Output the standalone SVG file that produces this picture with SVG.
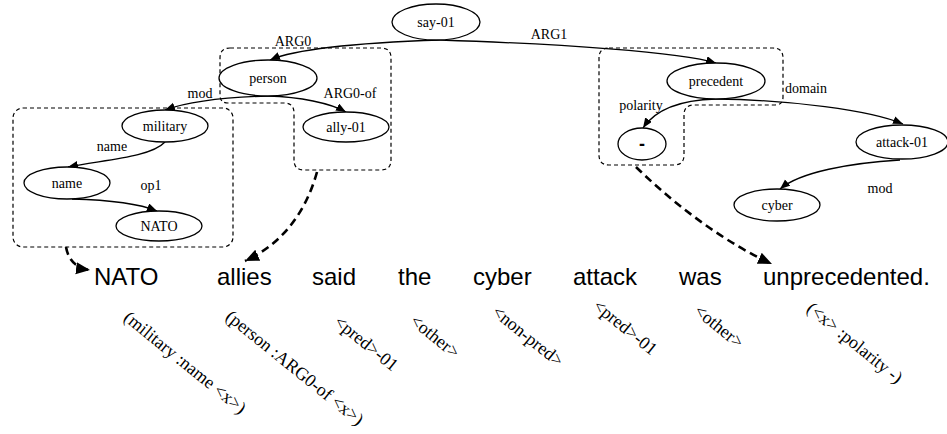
<svg xmlns="http://www.w3.org/2000/svg" width="947" height="434" viewBox="0 0 947 434">
<style>
.node ellipse{fill:#fff;stroke:#000;stroke-width:1.3}
.lbl{font-family:"Liberation Serif","Times New Roman",serif;font-size:14px;fill:#000;text-anchor:middle}
.edge{fill:none;stroke:#000;stroke-width:1.3}
.box{fill:none;stroke:#000;stroke-width:1.2;stroke-dasharray:4,3}
.align{fill:none;stroke:#000;stroke-width:2.6;stroke-dasharray:8,5}
.word{font-family:"Liberation Sans",Arial,sans-serif;font-size:24px;fill:#000}
.rot{font-family:"Liberation Serif","Times New Roman",serif;font-size:18px;fill:#000}
</style>
<defs>
<marker id="ah" markerUnits="userSpaceOnUse" markerWidth="12" markerHeight="10" refX="10" refY="4" orient="auto">
<path d="M0,0 L10,4 L0,8 Z" fill="#000"/>
</marker>
<marker id="ahb" markerUnits="userSpaceOnUse" markerWidth="16" markerHeight="14" refX="14" refY="6" orient="auto">
<path d="M0,0 L14,6 L0,12 Z" fill="#000"/>
</marker>
</defs>

<g id="boxes">
<rect class="box" x="13" y="108" width="220" height="139" rx="10"/>
<path class="box" d="M230,48 H381 Q391,48 391,58 V160 Q391,170 381,170 H304 Q294,170 294,160 V113 Q294,103 284,103 H228 Q220,103 220,95 V58 Q220,48 230,48 Z"/>
<path class="box" d="M609,48 H773 Q783,48 783,58 V97 Q783,105 775,105 H694 Q684,105 684,115 V155 Q684,165 674,165 H609 Q599,165 599,155 V58 Q599,48 609,48 Z"/>
</g>

<g id="connectors">
<path class="edge" d="M440,40 C380,42 300,47 270,60" marker-end="url(#ah)"/>
<path class="edge" d="M440,40 C560,44 680,52 716,63" marker-end="url(#ah)"/>
<path class="edge" d="M268,96 C230,97 190,101 165,110" marker-end="url(#ah)"/>
<path class="edge" d="M268,96 C300,97 330,103 346,112" marker-end="url(#ah)"/>
<path class="edge" d="M165,142 C150,158 100,160 68,167" marker-end="url(#ah)"/>
<path class="edge" d="M72,199 C110,200 140,204 157,211" marker-end="url(#ah)"/>
<path class="edge" d="M716,99 C680,100 655,110 643,128" marker-end="url(#ah)"/>
<path class="edge" d="M716,99 C790,100 870,110 903,124" marker-end="url(#ah)"/>
<path class="edge" d="M900,160 C850,163 800,172 780,189" marker-end="url(#ah)"/>
<text class="lbl" x="293" y="46">ARG0</text>
<text class="lbl" x="549" y="39">ARG1</text>
<text class="lbl" x="200" y="98">mod</text>
<text class="lbl" x="350" y="98">ARG0-of</text>
<text class="lbl" x="112" y="151">name</text>
<text class="lbl" x="151" y="190">op1</text>
<text class="lbl" x="641" y="110">polarity</text>
<text class="lbl" x="806" y="93">domain</text>
<text class="lbl" x="880" y="193">mod</text>
<path class="align" d="M66,247 C68,258 74,268 90,270" marker-end="url(#ahb)"/>
<path class="align" d="M317,172 C305,215 280,245 245,261" marker-end="url(#ahb)"/>
<path class="align" d="M636,167 C680,210 730,245 772,264" marker-end="url(#ahb)"/>
</g>

<g id="n-say" class="node"><ellipse cx="436" cy="22" rx="44" ry="18"/><text class="lbl" x="436" y="27">say-01</text></g>
<g id="n-person" class="node"><ellipse cx="268" cy="78" rx="49" ry="18"/><text class="lbl" x="268" y="83">person</text></g>
<g id="n-military" class="node"><ellipse cx="165" cy="126" rx="43" ry="16"/><text class="lbl" x="165" y="131">military</text></g>
<g id="n-ally" class="node"><ellipse cx="346" cy="127" rx="43" ry="15"/><text class="lbl" x="346" y="132">ally-01</text></g>
<g id="n-name" class="node"><ellipse cx="67" cy="183" rx="43" ry="16"/><text class="lbl" x="67" y="188">name</text></g>
<g id="n-nato" class="node"><ellipse cx="159" cy="226" rx="43" ry="15"/><text class="lbl" x="159" y="231">NATO</text></g>
<g id="n-precedent" class="node"><ellipse cx="716" cy="81" rx="49" ry="18"/><text class="lbl" x="716" y="86">precedent</text></g>
<g id="n-minus" class="node"><ellipse cx="642" cy="144" rx="24" ry="16"/><text x="642" y="150" style="font-family:'Liberation Sans',Arial,sans-serif;font-size:18px;font-weight:bold;text-anchor:middle">-</text></g>
<g id="n-attack" class="node"><ellipse cx="902" cy="142" rx="46" ry="17"/><text class="lbl" x="902" y="147">attack-01</text></g>
<g id="n-cyber" class="node"><ellipse cx="777" cy="205" rx="43" ry="16"/><text class="lbl" x="777" y="210">cyber</text></g>

<g id="words">
<text class="word" x="94" y="285">NATO</text>
<text class="word" x="217" y="285">allies</text>
<text class="word" x="312" y="285">said</text>
<text class="word" x="398" y="285">the</text>
<text class="word" x="473" y="285">cyber</text>
<text class="word" x="573" y="285">attack</text>
<text class="word" x="679" y="285">was</text>
<text class="word" x="763" y="285">unprecedented.</text>
</g>

<g id="rotated">
<text class="rot" transform="translate(122.5,319.5) rotate(39)">(military :name &lt;x&gt;)</text>
<text class="rot" transform="translate(224.5,318.5) rotate(39)">(person :ARG0-of &lt;x&gt;)</text>
<text class="rot" transform="translate(333,324) rotate(39)">&lt;pred&gt;-01</text>
<text class="rot" transform="translate(409,323) rotate(39)">&lt;other&gt;</text>
<text class="rot" transform="translate(491,314) rotate(39)">&lt;non-pred&gt;</text>
<text class="rot" transform="translate(592,308) rotate(39)">&lt;pred&gt;-01</text>
<text class="rot" transform="translate(693,313) rotate(39)">&lt;other&gt;</text>
<text class="rot" transform="translate(805.5,310.5) rotate(39)">(&lt;x&gt; :polarity -)</text>
</g>
</svg>
